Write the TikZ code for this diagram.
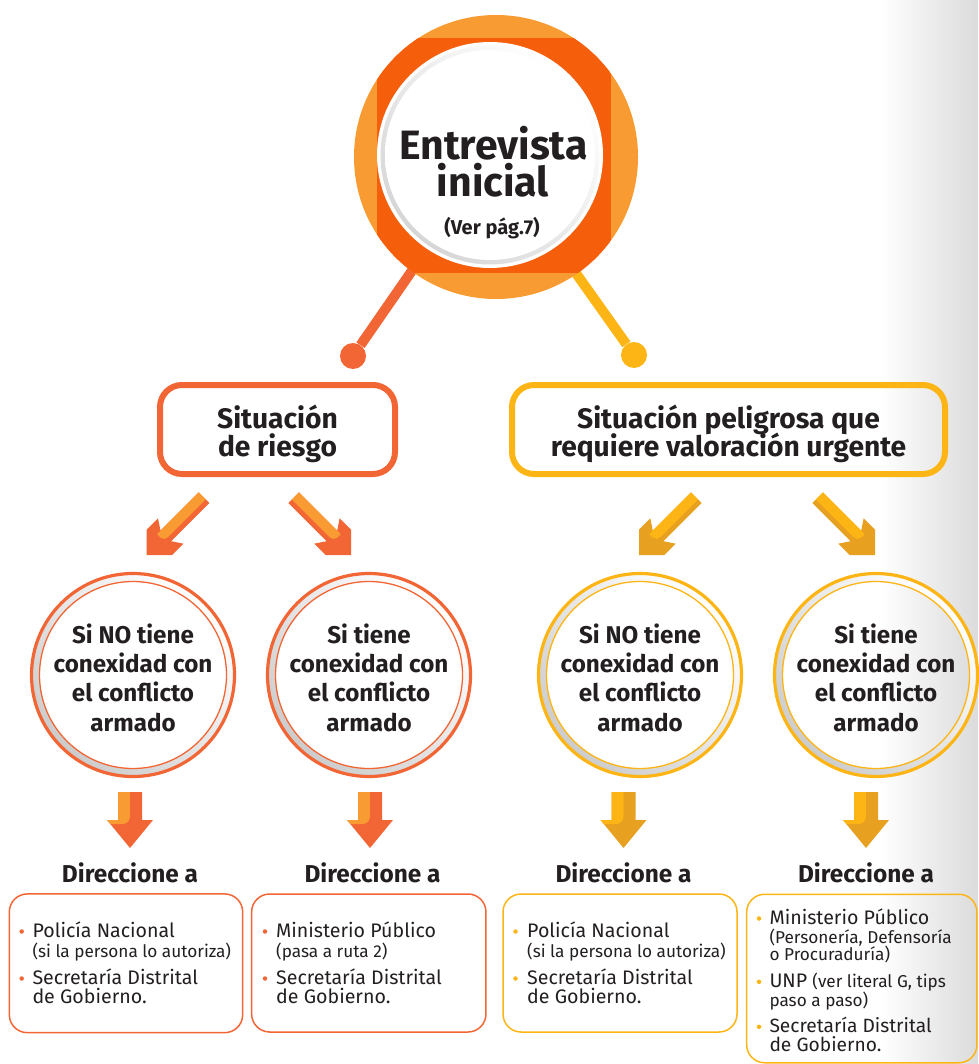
\documentclass[tikz,border=0pt]{standalone}
\usepackage{fontspec}
\setmainfont{Fira Sans}
\definecolor{ored}{HTML}{F26535}
\definecolor{olight}{HTML}{F99B33}
\definecolor{odark}{HTML}{F55F0C}
\definecolor{yel}{HTML}{FDB515}
\definecolor{yeldark}{HTML}{E8A020}
\definecolor{txt}{HTML}{231F20}
\pgfdeclareradialshading{discshade}{\pgfpoint{0bp}{0bp}}{color(0bp)=(white); color(34bp)=(white); color(50bp)=(black!58)}
\tikzset{
  pics/darrow/.style 2 args={code={
    \fill[#2] (0,0) -- (-18,-18) -- (-18,-34) -- (-7.5,-27) -- (-7.5,-81) -- (7.5,-81) -- (7.5,-27) -- (18,-34) -- (18,-18) -- cycle;
    \fill[#1] (-7.5,-81) -- (2.5,-81) -- (2.5,-28) to[out=-90,in=0] (-2.5,-22) -- (-7.5,-22) -- cycle;
  }},
  pics/varrow/.style 2 args={code={
    \fill[#2] (0,0) -- (-23,-28) -- (-12,-28) -- (-12,-56) -- (12,-56) -- (12,-28) -- (23,-28) -- cycle;
    \fill[#1] (-12,-56) -- (0,-56) -- (0,-32) to[out=-90,in=0] (-7,-24) -- (-19.7,-24) -- (-23,-28) -- (-12,-28) -- cycle;
  }},
  ring/.style={circle, draw=#1, line width=3.2, minimum size=203, inner sep=0},
  innerring/.style={circle, draw=#1, line width=1.3, minimum size=187, inner sep=0},
  ctext/.style={anchor=base, inner sep=0, text=txt, font=\bfseries\fontsize{24.2}{24.2}\selectfont},
  htext/.style={anchor=base, inner sep=0, text=txt, font=\bfseries\fontsize{28.2}{28.2}\selectfont},
  dtext/.style={anchor=base, inner sep=0, text=txt, font=\bfseries\fontsize{24.4}{24.4}\selectfont},
  bt/.style={anchor=base west, inner sep=0, text=txt, font=\fontsize{19.6}{19.6}\selectfont},
  st/.style={anchor=base west, inner sep=0, text=txt, font=\fontsize{17.2}{17.2}\selectfont},
  dot/.style={circle, fill=#1, inner sep=0, minimum size=4.5},
  topbox/.style={draw=#1, line width=6, rounded corners=22, inner sep=0},
  lowbox/.style={draw=#1, line width=1.5, rounded corners=18, inner sep=0},
  ball/.style={circle, fill=#1, inner sep=0, minimum size=26},
}
\begin{document}
\begin{tikzpicture}[x=1pt,y=-1pt]
\useasboundingbox (0,0) rectangle (978,1064);
\shade[left color=white, right color=black!14] (880,0) rectangle (978,1064);

% connectors from the big circle
\coordinate (ctr) at (492,155);
\node[ball=ored] (ballL) at (353,356) {};
\node[ball=yel] (ballR) at (634,355) {};
\draw[ored, line width=10] (ctr) -- (ballL);
\draw[yel, line width=10] (ctr) -- (ballR);

% big circle
\node[circle, fill=olight, minimum size=284, inner sep=0] (entrev) at (496,157) {};
\begin{scope}
  \clip (496,157) circle (142);
  \fill[odark] (377,38) rectangle (611,273);
\end{scope}
\fill[white] (490,155) circle (113);
\shade[top color=white, bottom color=black!16, shading angle=-45] (490,155) circle (109.5);
\begin{scope}
  \clip (490,155) circle (105);
  \shade[shading=discshade] (466,179) circle (146);
\end{scope}
\node[anchor=base, inner sep=0, text=txt, font=\bfseries\fontsize{41}{41}\selectfont] (t1) at (493.5,160) {Entrevista};
\node[anchor=base, inner sep=0, text=txt, font=\bfseries\fontsize{41}{41}\selectfont] (t2) at (493,197) {inicial};
\node[anchor=base, inner sep=0, text=txt, font=\bfseries\fontsize{20}{20}\selectfont] (t3) at (492,235) {(Ver pág.7)};

% top boxes
\node[topbox=ored, minimum width=235, minimum height=89] (riesgo) at (277.5,429.5) {};
\node[htext] (r1) at (277.5,428) {Situación};
\node[htext] (r2) at (277.5,456.5) {de riesgo};
\node[topbox=yel, minimum width=433, minimum height=89] (peligro) at (728.5,429.5) {};
\node[htext] (p1) at (728.5,428) {Situación peligrosa que};
\node[htext] (p2) at (728.5,456.5) {requiere valoración urgente};

% diagonal arrows
\pic[rotate=-45] at (146.7,555) {darrow={olight}{ored}};
\pic[xscale=-1, rotate=-45] at (351,555) {darrow={olight}{ored}};
\pic[rotate=-45] at (639,555) {darrow={yel}{yeldark}};
\pic[xscale=-1, rotate=-45] at (875,555) {darrow={yel}{yeldark}};

% circles
\foreach \cx/\cc [count=\i] in {133/ored, 369/ored, 640/yel, 876/yel}{
  \shade[even odd rule, top color=white, bottom color=black!20, shading angle=-45] (\cx,675) circle (101.5) (\cx,675) circle (93.5);
  \node[ring=\cc] (c\i) at (\cx,675) {};
  \node[innerring=\cc] (ci\i) at (\cx,675) {};
}
\node[ctext] (c1a) at (133,643.3) {Si NO tiene};
\node[ctext] (c1b) at (133,672.7) {conexidad con};
\node[ctext] (c1c) at (133,701.7) {el conflicto};
\node[ctext] (c1d) at (133,731.7) {armado};
\node[ctext] (c2a) at (369,643.3) {Si tiene};
\node[ctext] (c2b) at (369,672.7) {conexidad con};
\node[ctext] (c2c) at (369,701.7) {el conflicto};
\node[ctext] (c2d) at (369,731.7) {armado};
\node[ctext] (c3a) at (640,643.3) {Si NO tiene};
\node[ctext] (c3b) at (640,672.7) {conexidad con};
\node[ctext] (c3c) at (640,701.7) {el conflicto};
\node[ctext] (c3d) at (640,731.7) {armado};
\node[ctext] (c4a) at (876,643.3) {Si tiene};
\node[ctext] (c4b) at (876,672.7) {conexidad con};
\node[ctext] (c4c) at (876,701.7) {el conflicto};
\node[ctext] (c4d) at (876,731.7) {armado};

% vertical arrows
\pic at (130,848) {varrow={olight}{ored}};
\pic at (370,848) {varrow={olight}{ored}};
\pic at (623.5,848) {varrow={yel}{yeldark}};
\pic at (866,848) {varrow={yel}{yeldark}};

% Direccione a
\node[dtext] (d1) at (130,882) {Direccione a};
\node[dtext] (d2) at (372.5,882) {Direccione a};
\node[dtext] (d3) at (623.5,882) {Direccione a};
\node[dtext] (d4) at (866,882) {Direccione a};

% lower boxes
\node[lowbox=ored, minimum width=233.4, minimum height=138.7] (box1) at (126,963.3) {};
\node[lowbox=ored, minimum width=234.3, minimum height=138] (box2) at (368.8,963) {};
\node[lowbox=yel, minimum width=234, minimum height=138] (box3) at (620,963) {};
\node[lowbox=yel, minimum width=230.3, minimum height=168.5] (box4) at (861.8,978.5) {};

\node[dot=ored] (b11) at (21.7,931.5) {};
\node[bt] (l11) at (32.3,937) {Policía Nacional};
\node[st] (l12) at (32.3,957) {(si la persona lo autoriza)};
\node[dot=ored] (b12) at (21.7,978.5) {};
\node[bt] (l13) at (32.3,984) {Secretaría Distrital};
\node[bt] (l14) at (32.3,1003) {de Gobierno.};

\node[dot=ored] (b21) at (265,931.5) {};
\node[bt] (l21) at (276,937) {Ministerio Público};
\node[st] (l22) at (276,957) {(pasa a ruta 2)};
\node[dot=ored] (b22) at (265,978.5) {};
\node[bt] (l23) at (276,984) {Secretaría Distrital};
\node[bt] (l24) at (276,1003) {de Gobierno.};

\node[dot=yel] (b31) at (515.5,931.5) {};
\node[bt] (l31) at (527,937) {Policía Nacional};
\node[st] (l32) at (527,957) {(si la persona lo autoriza)};
\node[dot=yel] (b32) at (515.5,978.5) {};
\node[bt] (l33) at (527,984) {Secretaría Distrital};
\node[bt] (l34) at (527,1003) {de Gobierno.};

\node[dot=yel] (b41) at (759,918.5) {};
\node[bt] (l41) at (769.3,924) {Ministerio Público};
\node[st] (l42) at (769.3,943.3) {(Personería, Defensoría};
\node[st] (l43) at (769.3,960) {o Procuraduría)};
\node[dot=yel] (b42) at (759,981.8) {};
\node[bt] (l44) at (769.3,987.3) {UNP {\fontsize{17.2}{17.2}\selectfont(ver literal G, tips}};
\node[st] (l45) at (769.3,1006) {paso a paso)};
\node[dot=yel] (b43) at (759,1026.8) {};
\node[bt, font=\fontsize{19.2}{19.2}\selectfont] (l46) at (769.3,1032.3) {Secretaría Distrital};
\node[bt, font=\fontsize{19.2}{19.2}\selectfont] (l47) at (769.3,1051.5) {de Gobierno.};
\end{tikzpicture}
\end{document}
